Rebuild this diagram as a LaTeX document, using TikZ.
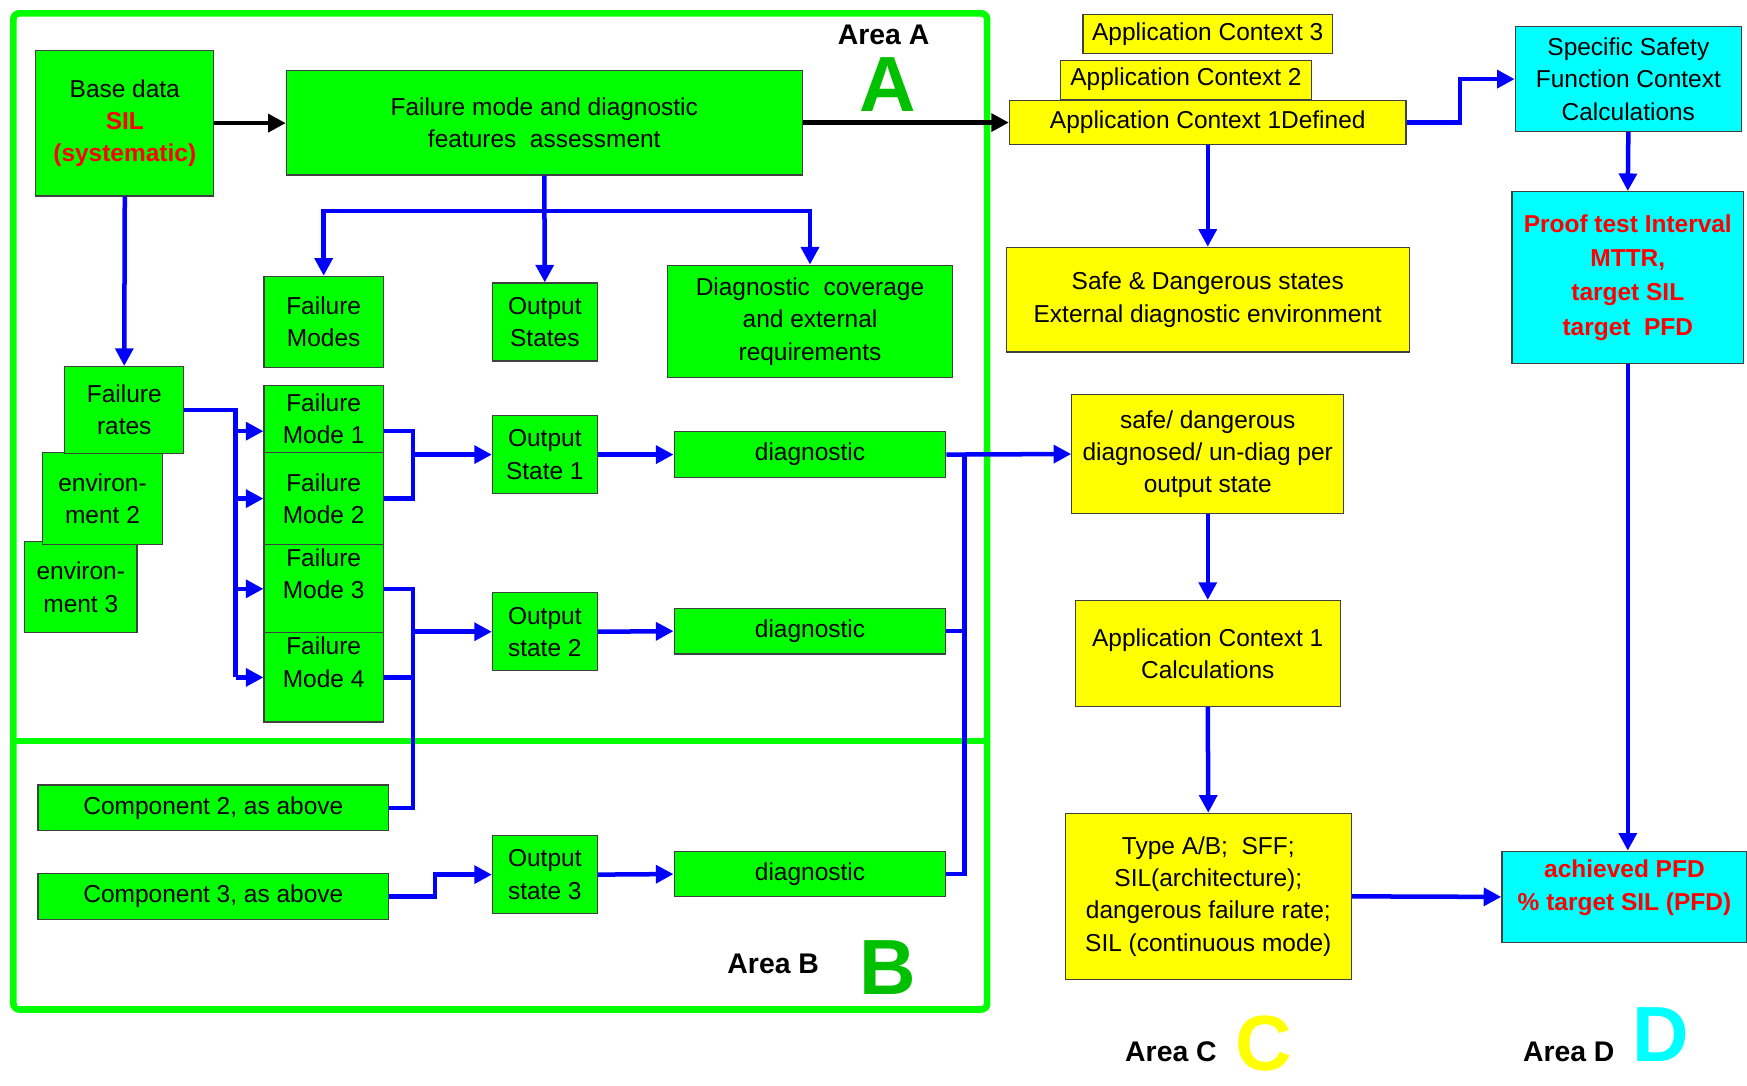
\documentclass[tikz,border=0pt]{standalone}
\usepackage{fontspec}
\setmainfont{Liberation Sans}
\usepackage{tikz}
\usetikzlibrary{positioning}
\usetikzlibrary{calc,arrows.meta}

\definecolor{boxgreen}{RGB}{0,255,0}
\definecolor{lettergreen}{RGB}{0,192,0}
\definecolor{boxyellow}{RGB}{255,255,0}
\definecolor{boxcyan}{RGB}{0,255,255}
\definecolor{wireblue}{RGB}{0,0,255}
\definecolor{textred}{RGB}{255,0,0}

\newcommand{\boxfont}{\fontsize{12.5}{16.5}\selectfont}

\tikzset{
	box/.style={draw=black!75, line width=0.6pt, inner sep=0pt, align=center, font=\boxfont},
	dims/.style 2 args={minimum width=#1, minimum height=#2},
	greenbox/.style={box, fill=boxgreen},
	yellowbox/.style={box, fill=boxyellow},
	cyanbox/.style={box, fill=boxcyan},
	wire/.style={wireblue, line width=2.3pt},
	flow/.style={wire, -{Triangle[length=9pt,width=9pt]}},
	mainflow/.style={black, line width=2.3pt, -{Triangle[length=9pt,width=9pt]}},
	areaframe/.style={draw=boxgreen, line width=3.4pt, rounded corners=3pt},
	arealabel/.style={anchor=base, inner sep=0pt, font=\bfseries\fontsize{14.5}{17}\selectfont},
	arealetter/.style={anchor=base, inner sep=0pt, font=\bfseries\fontsize{40}{44}\selectfont},
}

\begin{document}
\begin{tikzpicture}[x=0.02cm, y=-0.02cm]

	% ------------------------------------------------
	% Ensure the dimensions of graphic are appropriate
	\useasboundingbox (0,0) rectangle (1568,974);

	% ------------------------------------------------
	% Areas A and B
	\draw[areaframe] (12,12) rectangle (886,906);
	\draw[areaframe] (12,665) -- (886,665);

	\node[arealabel] (areaA) at (793,40) {Area A};
	\node[arealetter, text=lettergreen] (letterA) at (797,100) {A};
	\node[arealabel] (areaB) at (694,874) {Area B};
	\node[arealetter, text=lettergreen] (letterB) at (797,893) {B};
	\node[arealabel] (areaC) at (1051,953) {Area C};
	\node[arealetter, text=boxyellow] (letterC) at (1134,961) {C};
	\node[arealabel] (areaD) at (1408,953) {Area D};
	\node[arealetter, text=boxcyan] (letterD) at (1491,953) {D};

	% ------------------------------------------------
	% Area A boxes
	\node[greenbox, dims={3.2cm}{2.62cm}] (base) at (112,110.5)
		{Base data\\\textcolor{textred}{\bfseries SIL}\\\textcolor{textred}{\bfseries (systematic)}};
	\node[greenbox, dims={9.26cm}{1.88cm}] (fmda) at (488.5,110)
		{Failure mode and diagnostic\\features~ assessment};
	\node[greenbox, dims={2.14cm}{1.64cm}] (fmodes) at (290.5,289) {Failure\\Modes};
	\node[greenbox, dims={1.88cm}{1.4cm}] (ostates) at (489,289) {Output\\States};
	\node[greenbox, dims={5.12cm}{2.02cm}] (dcov) at (727,288.5)
		{Diagnostic~ coverage\\and external\\requirements};

	\node[greenbox, dims={2.02cm}{1.64cm}] (env3) at (72.5,527) {environ-\\ment 3};
	\node[greenbox, dims={2.16cm}{1.66cm}] (env2) at (92,447.5) {environ-\\ment 2};
	\node[greenbox, dims={2.14cm}{1.56cm}] (rates) at (111.5,368) {Failure\\rates};

	\node[greenbox, dims={2.14cm}{1.2cm}] (fm1) at (290.5,376) {Failure\\Mode 1};
	\node[greenbox, dims={2.14cm}{1.66cm}] (fm2) at (290.5,447.5) {Failure\\Mode 2};
	\node[greenbox, dims={2.14cm}{1.58cm}, text depth=0.55cm] (fm3) at (290.5,528.5) {Failure\\Mode 3};
	\node[greenbox, dims={2.14cm}{1.6cm}, text depth=0.55cm] (fm4) at (290.5,608) {Failure\\Mode 4};

	\node[greenbox, dims={1.88cm}{1.4cm}] (os1) at (489,408) {Output\\State 1};
	\node[greenbox, dims={1.88cm}{1.4cm}] (os2) at (489,567) {Output\\state 2};
	\node[greenbox, dims={4.88cm}{0.82cm}] (diag1) at (727,408) {diagnostic};
	\node[greenbox, dims={4.88cm}{0.82cm}] (diag2) at (727,566.5) {diagnostic};

	% ------------------------------------------------
	% Area B boxes
	\node[greenbox, dims={6.3cm}{0.82cm}] (comp2) at (191.5,725) {Component 2, as above};
	\node[greenbox, dims={6.3cm}{0.82cm}] (comp3) at (191.5,804.5) {Component 3, as above};
	\node[greenbox, dims={1.88cm}{1.4cm}] (os3) at (489,785) {Output\\state 3};
	\node[greenbox, dims={4.88cm}{0.82cm}] (diag3) at (727,784.5) {diagnostic};

	% ------------------------------------------------
	% Area C boxes
	\node[yellowbox, dims={4.48cm}{0.7cm}] (ctx3) at (1084,30.5) {Application Context 3};
	\node[yellowbox, dims={4.5cm}{0.7cm}] (ctx2) at (1064.5,71.5) {Application Context 2};
	\node[yellowbox, dims={7.12cm}{0.8cm}] (ctx1) at (1084,110) {Application Context 1Defined};
	\node[yellowbox, dims={7.24cm}{1.88cm}] (sdstates) at (1084,269)
		{Safe \& Dangerous states\\External diagnostic environment};
	\node[yellowbox, dims={4.88cm}{2.14cm}] (sdd) at (1084,407.5)
		{safe/ dangerous\\diagnosed/ un-diag per\\output state};
	\node[yellowbox, dims={4.76cm}{1.9cm}] (calc) at (1084,586.5)
		{Application Context 1\\Calculations};
	\node[yellowbox, dims={5.14cm}{2.98cm}] (typeab) at (1084.5,804.5)
		{Type A/B;~ SFF;\\SIL(architecture);\\dangerous failure rate;\\SIL (continuous mode)};

	% ------------------------------------------------
	% Area D boxes
	\node[cyanbox, dims={4.06cm}{1.88cm}] (sfc) at (1461.5,71)
		{Specific Safety\\Function Context\\Calculations};
	\node[cyanbox, dims={4.16cm}{3.08cm}, text=textred, font=\boxfont\bfseries] (proof) at (1461,249)
		{Proof test Interval\\[1pt]MTTR,\\[1pt]target SIL\\[1pt]target~ PFD};
	\node[cyanbox, dims={4.4cm}{1.64cm}, text=textred, font=\boxfont\bfseries, text depth=0.42cm] (achieved) at (1458,805)
		{achieved PFD\\\% target SIL (PFD)};

	% ------------------------------------------------
	% Relevant coordinates
	\path (fmda.south)	+(0,32) coordinate (split);
	\path (rates.east)	+(46,0) coordinate (rbus);
	\path (fm1.west)	+(0,11) coordinate (fm1in);
	\path (fm1.east)	+(0,11) coordinate (fm1out);
	\path (fm2.east)	+(26,0) coordinate (j12);
	\path (fm4.east)	+(26,0) coordinate (j34);
	\path (diag1.east)	+(16,0) coordinate (dbus);

	% ------------------------------------------------
	% Connectors
	\draw[mainflow] (base.east) -- (base.east -| fmda.west);
	\draw[mainflow] (fmda.east) -- (fmda.east -| ctx1.west);

	\draw[flow] (fmda.south) -- (ostates.north);
	\draw[flow] (split) -| (fmodes.north);
	\draw[flow] (split) -| (dcov.north);
	\draw[flow] (base.south) -- (rates.north);

	\draw[wire] (rates.east) -- (rbus) -- (rbus |- fm4.west);
	\draw[flow] (rbus |- fm1in) -- (fm1in);
	\foreach \m in {fm2,fm3,fm4}
		\draw[flow] (rbus |- \m.west) -- (\m.west);

	\draw[wire] (fm1out) -| (j12) -- (fm2.east);
	\draw[flow] (j12 |- os1.west) -- (os1.west);
	\draw[wire] (fm3.east) -| (j34 |- comp2.east) -- (comp2.east);
	\draw[wire] (fm4.east) -- (j34);
	\draw[flow] (j34 |- os2.west) -- (os2.west);
	\draw[flow] (comp3.east) -- ++(41,0) |- (os3.west);

	\foreach \i in {1,2,3}
		\draw[flow] (os\i.east) -- (diag\i.west);

	\draw[wire] (diag2.east) -- (diag2.east -| dbus);
	\draw[wire] (diag3.east) -| (dbus);
	\draw[flow] (diag1.east) -- (sdd.west);

	\draw[flow] (ctx1.south) -- (sdstates.north);
	\draw[flow] (ctx1.east) -- ++(48,0) |- (sfc.west);
	\draw[flow] (sfc.south) -- (proof.north);
	\draw[flow] (proof.south) -- (proof.south |- achieved.north);
	\draw[flow] (sdd.south) -- (calc.north);
	\draw[flow] (calc.south) -- (typeab.north);
	\draw[flow] (typeab.east) -- (achieved.west);

\end{tikzpicture}
\end{document}
